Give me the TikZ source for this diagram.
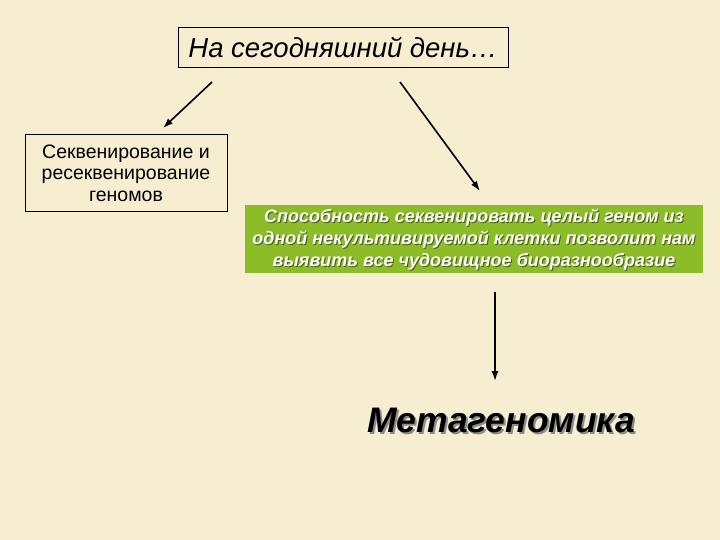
\documentclass[tikz,border=0pt]{standalone}
\usepackage{fontspec}
\setmainfont{Liberation Sans}
\usepackage{tikz}
\usetikzlibrary{arrows.meta}
\definecolor{paper}{RGB}{247,237,208}
\definecolor{leaf}{RGB}{140,188,40}
\definecolor{leafdark}{RGB}{70,95,20}

\begin{document}
\begin{tikzpicture}[x=1pt,y=-1pt,
    plainbox/.style={draw=black, line width=0.8pt, inner sep=0pt, align=center},
    arr/.style={-{Latex[length=10pt,width=7pt]}, line width=1.6pt}]

        \fill[paper] (0,0) rectangle (720,540);
        \useasboundingbox (0,0) rectangle (720,540);

        \node[plainbox, minimum width=330, minimum height=40,
              font=\fontsize{27.5}{32}\selectfont\itshape] (today) at (343,47) {На сегодняшний день…};

        \node[plainbox, minimum width=202, minimum height=77,
              font=\fontsize{19.5}{21.5}\selectfont] (reseq) at (126,173)
              {Секвенирование и\\ресеквенирование\\геномов};

        \fill[leaf] (245,205) rectangle (703,273);
        \node[align=center, text=leafdark, font=\fontsize{18}{22}\selectfont\bfseries\itshape] (abilitysh) at (475,241)
              {Способность секвенировать целый геном из\\одной некультивируемой клетки позволит нам\\выявить все чудовищное биоразнообразие};
        \node[align=center, text=white, font=\fontsize{18}{22}\selectfont\bfseries\itshape] (ability) at (474,240)
              {Способность секвенировать целый геном из\\одной некультивируемой клетки позволит нам\\выявить все чудовищное биоразнообразие};

        \node[text=black!45, font=\fontsize{35.5}{40}\selectfont\bfseries\itshape] (metash) at (503,422) {Метагеномика};
        \node[font=\fontsize{35.5}{40}\selectfont\bfseries\itshape] (meta) at (501,420) {Метагеномика};

        \coordinate (a1) at (212,82);
        \coordinate (a2) at (163,128);
        \coordinate (b1) at (400,82);
        \coordinate (b2) at (480,191);
        \coordinate (c1) at (495,292);
        \coordinate (c2) at (495,381);

        \draw[arr] (a1) -- (a2);
        \draw[arr] (b1) -- (b2);
        \draw[arr] (c1) -- (c2);

    \end{tikzpicture}
\end{document}
